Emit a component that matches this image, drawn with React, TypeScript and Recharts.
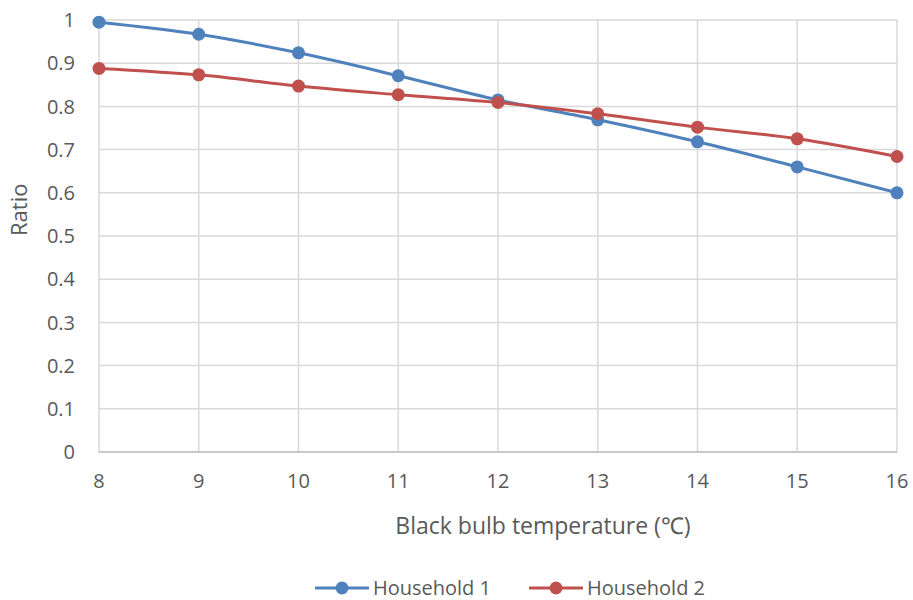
import { LineChart, Line, XAxis, YAxis, CartesianGrid, Legend } from "recharts";

const temperatures = [8, 9, 10, 11, 12, 13, 14, 15, 16];
const household1 = [0.995, 0.967, 0.924, 0.871, 0.815, 0.769, 0.718, 0.66, 0.6];
const household2 = [0.888, 0.873, 0.847, 0.827, 0.809, 0.783, 0.752, 0.725, 0.684];
const yTicks = [0, 0.1, 0.2, 0.3, 0.4, 0.5, 0.6, 0.7, 0.8, 0.9, 1];

const data = temperatures.map((t, i) => ({
  t,
  h1: household1[i],
  h2: household2[i],
}));

const FONT = "'Open Sans', sans-serif";
const TEXT = "#595959";

const renderLegend = (props: any) => {
  const { payload } = props;
  return (
    <div
      style={{
        display: "flex",
        justifyContent: "center",
        gap: 38,
        fontFamily: FONT,
        fontSize: 20,
        lineHeight: "24px",
        color: TEXT,
        marginLeft: 104,
      }}
    >
      {payload.map((entry: any) => (
        <div key={entry.value} style={{ display: "flex", alignItems: "center" }}>
          <svg width={54} height={14} style={{ marginRight: 4 }}>
            <line x1={0} y1={7} x2={54} y2={7} stroke={entry.color} strokeWidth={3} />
            <circle cx={27} cy={7} r={6.5} fill={entry.color} />
          </svg>
          <span>{entry.value}</span>
        </div>
      ))}
    </div>
  );
};

export default function App() {
  return (
    <div style={{ position: "absolute", left: 0, top: 0, background: "#fff" }}>
      <LineChart width={913} height={600} data={data} margin={{ top: 20, right: 16, left: 19, bottom: 0 }}>
        <CartesianGrid stroke="#d9d9d9" strokeWidth={1.5} />
        <XAxis
          dataKey="t"
          type="number"
          domain={[8, 16]}
          ticks={temperatures}
          tickLine={false}
          axisLine={{ stroke: "#bfbfbf", strokeWidth: 1.5 }}
          tick={{ fill: TEXT, fontSize: 20, fontFamily: FONT }}
          tickMargin={16}
          height={124}
          label={{
            value: "Black bulb temperature (℃)",
            position: "insideBottom",
            offset: 42,
            dx: 45,
            fill: TEXT,
            fontSize: 23,
            fontFamily: FONT,
          }}
        />
        <YAxis
          type="number"
          domain={[0, 1]}
          ticks={yTicks}
          tickLine={false}
          axisLine={false}
          tick={{ fill: TEXT, fontSize: 20, fontFamily: FONT }}
          tickMargin={18}
          width={80}
          label={{
            value: "Ratio",
            angle: -90,
            position: "insideLeft",
            offset: 0,
            fill: TEXT,
            fontSize: 22,
            fontFamily: FONT,
          }}
        />
        <Legend verticalAlign="bottom" content={renderLegend} wrapperStyle={{ bottom: 0 }} />
        <Line
          type="monotone"
          dataKey="h1"
          name="Household 1"
          stroke="#4f81bd"
          strokeWidth={3}
          dot={{ r: 6.5, fill: "#4f81bd", stroke: "#4f81bd", strokeWidth: 0 }}
          isAnimationActive={false}
        />
        <Line
          type="monotone"
          dataKey="h2"
          name="Household 2"
          stroke="#c0504d"
          strokeWidth={3}
          dot={{ r: 6.5, fill: "#c0504d", stroke: "#c0504d", strokeWidth: 0 }}
          isAnimationActive={false}
        />
      </LineChart>
    </div>
  );
}
